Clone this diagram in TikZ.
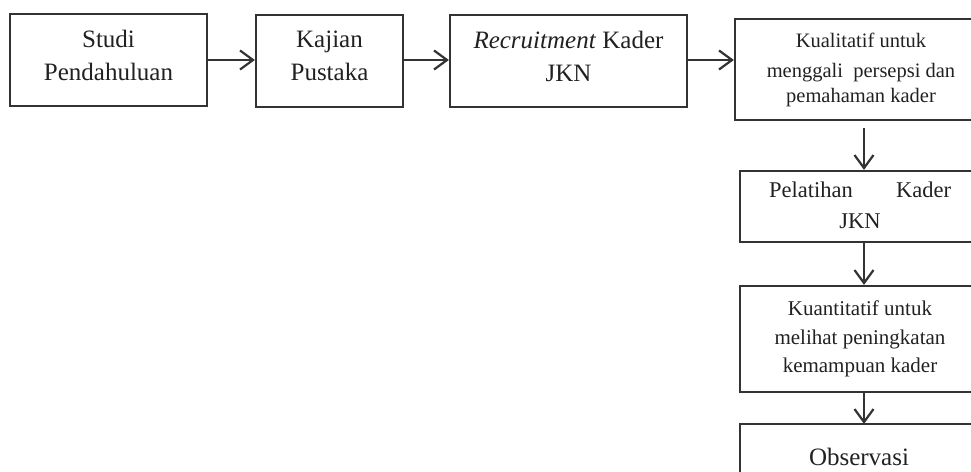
\documentclass[tikz,border=0pt]{standalone}
\usepackage{fontspec}
\setmainfont{Liberation Serif}
\usetikzlibrary{arrows.meta}
\definecolor{ln}{gray}{0.2}
\definecolor{tx}{gray}{0.13}
\tikzset{
  box/.style={draw=ln, line width=2.2pt, rectangle, inner sep=0pt, align=center, text=tx},
  big/.style={font=\fontsize{25}{33}\selectfont},
  arr/.style={draw=ln, line width=2.2pt, -{Straight Barb[length=13pt,width=19pt,line width=2.2pt]}}
}
\begin{document}
\begin{tikzpicture}[x=1pt,y=-1pt]
\useasboundingbox (0,0) rectangle (971,471);
\clip (0,0) rectangle (971,471);
\node[box,big,text depth=10pt,minimum width=197pt,minimum height=92pt] (b1) at (108.5,60) {Studi\\Pendahuluan};
\node[box,big,text depth=10pt,minimum width=147pt,minimum height=92pt] (b2) at (329.5,61) {Kajian\\Pustaka};
\node[box,big,text depth=10pt,minimum width=237pt,minimum height=92pt] (b3) at (568.5,61) {\textit{Recruitment} Kader\\JKN};
\node[box,minimum width=252pt,minimum height=101pt,font=\fontsize{20.5}{25}\selectfont] (b4) at (861,69.5) {Kualitatif untuk\\[5pt]menggali\ \ persepsi dan\\pemahaman kader};
\node[box,minimum width=240pt,minimum height=71pt,font=\fontsize{22.5}{31}\selectfont] (b5) at (860,206.5) {\raisebox{-4pt}{\begin{tabular}{@{}c@{}}\makebox[182pt]{Pelatihan\hfill Kader}\\JKN\end{tabular}}};
\node[box,minimum width=240pt,minimum height=106pt,font=\fontsize{21}{28.5}\selectfont] (b6) at (860,339) {Kuantitatif untuk\\melihat peningkatan\\kemampuan kader};
\node[box,draw=none,big,minimum width=236pt,minimum height=46pt] (b7) at (859,448) {\raisebox{-13pt}[8pt][0pt]{Observasi}};
\draw[ln,line width=2.2pt] ([yshift=-5pt]b7.south west) -- (b7.north west) -- (b7.north east) -- ([yshift=-5pt]b7.south east);
\coordinate (a4s) at (864,128);
\draw[arr] (b1.east) -- (b2.west |- b1.east);
\draw[arr] (b2.east |- b1.east) -- (b3.west |- b1.east);
\draw[arr] (b3.east |- b1.east) -- (b4.west |- b1.east);
\draw[arr] (a4s) -- (a4s |- b5.north);
\draw[arr] (b5.south -| a4s) -- (b6.north -| a4s);
\draw[arr] (b6.south -| a4s) -- (b7.north -| a4s);
\end{tikzpicture}
\end{document}
